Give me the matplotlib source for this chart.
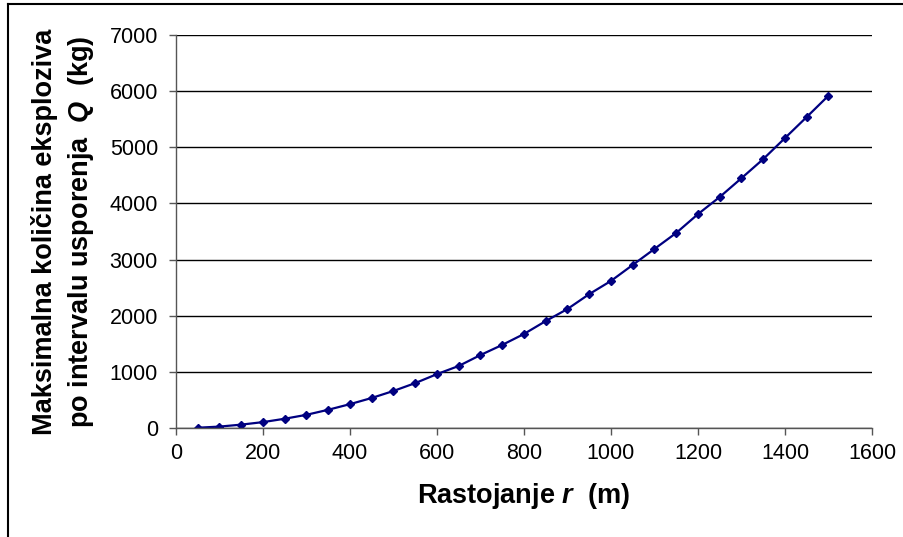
import matplotlib as mpl
import matplotlib.pyplot as plt
from matplotlib.lines import Line2D

# distance r (m) and max explosive charge per delay Q (kg)
rastojanje = [50, 100, 150, 200, 250, 300, 350, 400, 450, 500,
              550, 600, 650, 700, 750, 800, 850, 900, 950, 1000,
              1050, 1100, 1150, 1200, 1250, 1300, 1350, 1400, 1450, 1500]
kolicina = [5, 25, 60, 105, 165, 235, 325, 425, 535, 660,
            800, 960, 1105, 1300, 1480, 1675, 1905, 2120, 2385, 2620,
            2905, 3190, 3475, 3810, 4115, 4450, 4790, 5165, 5540, 5920]

x_ticks = [0, 200, 400, 600, 800, 1000, 1200, 1400, 1600]
y_ticks = [0, 1000, 2000, 3000, 4000, 5000, 6000, 7000]

plt.rcParams['font.family'] = ['Liberation Sans', 'DejaVu Sans']
plt.rcParams['mathtext.fontset'] = 'custom'
plt.rcParams['mathtext.bfit'] = 'Liberation Sans:italic:bold'
plt.rcParams['mathtext.rm'] = 'Liberation Sans:bold'

fig = plt.figure(figsize=(9.04, 5.37), dpi=100)
ax = fig.add_axes([176 / 904, 1 - 428 / 537, (872 - 176) / 904, (428 - 35) / 537])

ax.plot(rastojanje, kolicina, color='#000080', linewidth=1.6,
        marker='D', markersize=4.5, markerfacecolor='#000080', markeredgecolor='#000080')

ax.set_xlim(0, 1600)
ax.set_ylim(0, 7000)
ax.set_xticks(x_ticks)
ax.set_yticks(y_ticks)
ax.tick_params(axis='both', labelsize=15.5, direction='out', length=5, width=1, color='#555555')
ax.tick_params(axis='x', pad=6)
ax.tick_params(axis='y', pad=8)

ax.grid(axis='y', color='black', linewidth=1)
ax.set_axisbelow(True)
for s in ['top', 'right']:
    ax.spines[s].set_visible(False)
for s in ['left', 'bottom']:
    ax.spines[s].set_color('#555555')
    ax.spines[s].set_linewidth(1)

ax.set_xlabel(r'Rastojanje $\mathbfit{r}$  (m)', fontsize=19.5, fontweight='bold', labelpad=12)
ax.set_ylabel('Maksimalna količina eksploziva\n' + r'po intervalu usporenja  $\mathbfit{Q}$  (kg)',
              fontsize=19.5, fontweight='bold', labelpad=10, linespacing=1.35)

# frame around the chart area
fig.add_artist(Line2D([8 / 904, 8 / 904], [0, 1 - 4 / 537], transform=fig.transFigure,
                      color='black', linewidth=1.5))
fig.add_artist(Line2D([8 / 904, 1], [1 - 4 / 537, 1 - 4 / 537], transform=fig.transFigure,
                      color='black', linewidth=1.5))

fig.savefig('out.png', dpi=100)
